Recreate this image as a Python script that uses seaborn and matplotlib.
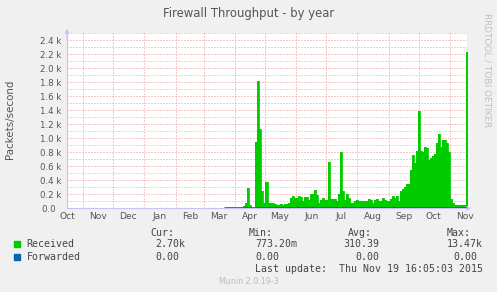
import numpy as np
import pandas as pd
import matplotlib
matplotlib.use("Agg")
import matplotlib.pyplot as plt
import matplotlib.dates as mdates
from matplotlib.ticker import MultipleLocator, FuncFormatter
import seaborn as sns

# ---------------- data ----------------
title = "Firewall Throughput - by year"
ylabel = "Packets/second"
side_text = "RRDTOOL / TOBI OETIKER"
footer = "Munin 2.0.19-3"
last_update = "Last update:  Thu Nov 19 16:05:03 2015"

x_start = "2014-10-15 22:00"
x_end = "2015-11-18 02:00"

received_start = "2015-03-22 12:00"
received_step = "2D"
# Received, thousands of packets/second (one value per 2-day step)
received_k = [
    0.00, 0.00, 0.00, 0.00, 0.00, 0.00, 0.00, 0.00, 0.01, 0.03,
    0.08, 0.29, 0.04, 0.01, 0.01, 0.95, 1.82, 1.13, 0.25, 0.08,
    0.37, 0.07, 0.07, 0.07, 0.06, 0.05, 0.05, 0.06, 0.05, 0.06,
    0.06, 0.08, 0.14, 0.17, 0.14, 0.14, 0.17, 0.16, 0.10, 0.16,
    0.16, 0.12, 0.20, 0.21, 0.26, 0.19, 0.07, 0.12, 0.14, 0.12,
    0.12, 0.66, 0.13, 0.13, 0.13, 0.11, 0.21, 0.80, 0.24, 0.12,
    0.21, 0.14, 0.08, 0.08, 0.10, 0.12, 0.10, 0.11, 0.11, 0.11,
    0.10, 0.13, 0.12, 0.08, 0.12, 0.13, 0.10, 0.10, 0.15, 0.12,
    0.11, 0.10, 0.13, 0.17, 0.14, 0.18, 0.10, 0.24, 0.28, 0.31,
    0.34, 0.34, 0.55, 0.76, 0.64, 0.82, 1.39, 0.82, 0.81, 0.88,
    0.86, 0.69, 0.72, 0.75, 0.78, 0.93, 1.06, 0.87, 0.98, 0.97,
    0.93, 0.80, 0.13, 0.07, 0.05, 0.05, 0.05, 0.05, 0.05, 0.05,
    2.23,
]
forwarded_dates = ["2015-03-22 12:00", "2015-11-19 16:05"]
forwarded_k = [0.0, 0.0]

series_names = ["Received", "Forwarded"]
series_colors = ["#00cc00", "#0066b3"]
stat_headers = ["Cur:", "Min:", "Avg:", "Max:"]
received_stats = ["2.70k", "773.20m", "310.39", "13.47k"]
forwarded_stats = ["0.00", "0.00", "0.00", "0.00"]

# ---------------- styling ----------------
sns.set_style("white")
plt.rcParams["font.family"] = ["DejaVu Sans"]

W, H = 497, 292
fig = plt.figure(figsize=(W / 100, H / 100), dpi=100, facecolor="#f0f0f0")

left, right, top, bottom = 67, 467, 33, 208.3
ax = fig.add_axes([left / W, 1 - bottom / H, (right - left) / W, (bottom - top) / H])
ax.set_facecolor("white")

rec_dates = pd.date_range(received_start, periods=len(received_k), freq=received_step)
rec_vals = np.array(received_k) * 1000.0
step_end = rec_dates[-1] + pd.Timedelta(received_step)
xs = list(rec_dates) + [step_end]
ys = list(rec_vals) + [rec_vals[-1]]
df_rec = pd.DataFrame({"date": xs, "value": ys})

ax.fill_between(df_rec["date"], df_rec["value"], step="post",
                color=series_colors[0], lw=0, zorder=3)
sns.lineplot(data=df_rec, x="date", y="value", drawstyle="steps-post",
             color=series_colors[0], lw=0.6, ax=ax, zorder=3)

df_fwd = pd.DataFrame({"date": pd.to_datetime(forwarded_dates),
                       "value": np.array(forwarded_k) * 1000.0})
sns.lineplot(data=df_fwd, x="date", y="value", color=series_colors[1],
             lw=1.2, ax=ax, zorder=4)

ax.set_xlim(pd.Timestamp(x_start), pd.Timestamp(x_end))
ax.set_ylim(0, 2504)
ax.set_xlabel("")
ax.set_ylabel("")

dot = (0, (1, 2))
pink = "#f09090"
grey = "#b8b8b8"

ax.yaxis.set_major_locator(MultipleLocator(200))
ax.yaxis.set_minor_locator(MultipleLocator(100))
ax.yaxis.set_major_formatter(FuncFormatter(
    lambda v, p: "0.0  " if abs(v) < 1e-9 else f"{v/1000:.1f} k"))

ax.xaxis.set_major_locator(mdates.MonthLocator(bymonthday=1))
ax.xaxis.set_major_formatter(FuncFormatter(lambda v, p: ""))
ax.xaxis.set_minor_locator(mdates.MonthLocator(bymonthday=16))
ax.xaxis.set_minor_formatter(mdates.DateFormatter("%b"))

ax.grid(which="minor", axis="y", color=grey, lw=0.72, linestyle=dot, zorder=1)
ax.grid(which="major", axis="y", color=pink, lw=0.72, linestyle=dot, zorder=1)
ax.grid(which="major", axis="x", color=pink, lw=0.72, linestyle=dot, zorder=1)
ax.grid(which="minor", axis="x", visible=False)
ax.set_axisbelow(True)

ax.tick_params(axis="y", which="major", direction="out", length=2, width=0.7,
               color="#888888", labelsize=6.2, labelcolor="#555555", pad=2)
ax.tick_params(axis="y", which="minor", length=0)
ax.tick_params(axis="x", which="major", length=0)
ax.tick_params(axis="x", which="minor", length=0, labelsize=6.6,
               labelcolor="#555555", pad=3)

axis_col = "#c4c4f4"
for s in ["top", "right"]:
    ax.spines[s].set_visible(False)
for s in ["left", "bottom"]:
    ax.spines[s].set_color(axis_col)
    ax.spines[s].set_linewidth(0.8)
ax.annotate("", xy=(0, 1.04), xytext=(0, 0.95), xycoords="axes fraction",
            arrowprops=dict(arrowstyle="-|>", color=axis_col, lw=0.8,
                            mutation_scale=6), annotation_clip=False)
ax.annotate("", xy=(1.017, 0), xytext=(0.99, 0), xycoords="axes fraction",
            arrowprops=dict(arrowstyle="-|>", color=axis_col, lw=0.8,
                            mutation_scale=6), annotation_clip=False)


def px(x, y):
    return x / W, 1 - y / H


fig.text(*px(249, 13), title, ha="center", va="center", fontsize=8.4,
         color="#555555")
fig.text(*px(10.5, 119), ylabel, ha="center", va="center", rotation=90,
         fontsize=7.4, color="#555555")
fig.text(*px(487, 70), side_text, ha="center", va="center", rotation=-90,
         fontsize=6.4, color="#c0c0c0")

mono = "DejaVu Sans Mono"
lsize = 7.1
lcol = "#444444"
hdr_x = [150, 249, 348, 447]
rec_x = [155, 255, 343, 447]
fwd_x = [155, 255, 355, 453]
for t, x in zip(stat_headers, hdr_x):
    fig.text(*px(x, 233), t, ha="left", va="center", family=mono,
             fontsize=lsize, color=lcol)
rows_y = [244, 256.5]
for name, col, y, stats, xs_ in zip(series_names, series_colors, rows_y,
                                    [received_stats, forwarded_stats],
                                    [rec_x, fwd_x]):
    fig.patches.append(plt.Rectangle(px(14, y + 3), 6 / W, 6 / H,
                                     transform=fig.transFigure,
                                     color=col, figure=fig))
    fig.text(*px(26.5, y), name, ha="left", va="center", family=mono,
             fontsize=lsize, color=lcol)
    for t, x in zip(stats, xs_):
        fig.text(*px(x, y), t, ha="left", va="center", family=mono,
                 fontsize=lsize, color=lcol)

fig.text(*px(483, 268.7), last_update, ha="right", va="center", family=mono,
         fontsize=lsize, color=lcol)
fig.text(*px(249, 281), footer, ha="center", va="center", fontsize=5.8,
         color="#bbbbbb")

fig.savefig("out.png", dpi=100, facecolor=fig.get_facecolor())
